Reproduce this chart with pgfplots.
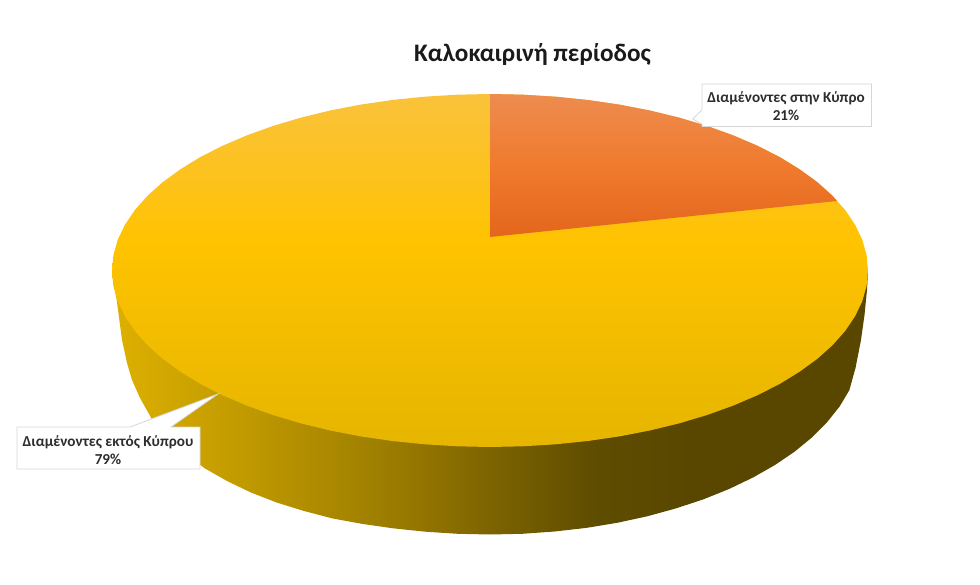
\documentclass[border=0pt]{standalone}
\usepackage{fontspec}
\setmainfont{Carlito}
\usepackage{pgfplots}
\pgfplotsset{compat=1.18}

% side wall of the disc, left to right (position = 25 + 50*(x-112)/756)
\pgfdeclarehorizontalshading{sidewall}{100bp}{
  rgb(0bp)=(0.87,0.69,0); rgb(25bp)=(0.87,0.69,0);
  rgb(34bp)=(0.75,0.60,0); rgb(44bp)=(0.60,0.48,0);
  rgb(50bp)=(0.49,0.39,0); rgb(57bp)=(0.37,0.30,0);
  rgb(63bp)=(0.35,0.28,0); rgb(100bp)=(0.35,0.28,0)}
% top faces, bottom to top
\pgfdeclareverticalshading{yellowtop}{100bp}{
  rgb(0bp)=(0.90,0.71,0); rgb(25bp)=(0.90,0.71,0);
  rgb(46bp)=(0.97,0.75,0); rgb(54bp)=(1.0,0.765,0);
  rgb(64bp)=(0.99,0.76,0.12); rgb(75bp)=(0.98,0.76,0.23);
  rgb(100bp)=(0.98,0.76,0.23)}
\pgfdeclareverticalshading{orangetop}{100bp}{
  rgb(0bp)=(0.89,0.40,0.11); rgb(25bp)=(0.89,0.40,0.11);
  rgb(50bp)=(0.94,0.48,0.18); rgb(75bp)=(0.93,0.55,0.31);
  rgb(100bp)=(0.93,0.55,0.31)}

\begin{document}
\begin{tikzpicture}
\begin{axis}[
  scale only axis,
  width=980pt,
  height=585pt,
  xmin=0, xmax=980,
  ymin=0, ymax=585,
  y dir=reverse,
  hide axis,
  clip=false,
  every axis plot/.append style={no markers}
]
\path (axis cs:0,0) rectangle (axis cs:980,585);
% side wall
\addplot[draw=none, shading=sidewall] coordinates {
  (868,270.5)(867,290)(864.5,315)(861,340)(855.5,368)(849.3,390.3)(839.6,406.5)
  (827.1,422.2)(812.2,437.25)(794.7,451.6)(775,465)(753,477.5)(729.1,489)
  (703.4,499.3)(676,508.4)(647.2,516.3)(617.2,522.8)(586.3,527.9)(554.6,531.5)
  (522.4,533.8)(490,534.5)(457.6,533.8)(425.4,531.7)(393.7,528.4)(362.8,524)
  (332.8,518.5)(304,511)(276.6,502.5)(250.9,492.5)(227,481)(205,468.5)(185.3,454)
  (167.8,438)(152.9,421)(140,398)(132,380)(127,363)(122,340)(116.7,300)(113,280)(112,270.5)
} --cycle;
% 79% top face
\addplot[draw=none, shading=yellowtop] coordinates {
  (490,94)(522.9,94.7)(555.6,96.7)(587.8,100)(619.3,104.6)(649.8,110.5)(679,117.6)
  (706.8,125.9)(733,135.3)(757.3,145.7)(779.6,157)(799.6,169.3)(817.4,182.25)
  (832.6,195.9)(845.2,210.1)(855.1,224.8)(862.3,239.9)(866.6,255.1)(868,270.5)
  (866.6,285.9)(862.3,301.1)(855.1,316.2)(845.2,330.9)(832.6,345.1)(817.4,358.75)
  (799.6,371.7)(779.6,384)(757.3,395.3)(733,405.7)(706.8,415.1)(679,423.4)
  (649.8,430.5)(619.3,436.4)(587.8,441)(555.6,444.3)(522.9,446.3)(490,447)
  (457.1,446.3)(424.4,444.3)(392.2,441)(360.7,436.4)(330.2,430.5)(301,423.4)
  (273.2,415.1)(247,405.7)(222.7,395.3)(200.4,384)(180.4,371.7)(162.6,358.75)
  (147.4,345.1)(134.8,330.9)(124.9,316.2)(117.7,301.1)(113.4,285.9)(112,270.5)
  (113.4,255.1)(117.7,239.9)(124.9,224.8)(134.8,210.1)(147.4,195.9)(162.6,182.25)
  (180.4,169.3)(200.4,157)(222.7,145.7)(247,135.3)(273.2,125.9)(301,117.6)
  (330.2,110.5)(360.7,104.6)(392.2,100)(424.4,96.7)(457.1,94.7)
} --cycle;
% 21% slice
\addplot[draw=none, shading=orangetop] coordinates {
  (490,237)(490,94)(522.9,94.7)(555.6,96.7)(587.8,100)(619.3,104.6)(649.8,110.5)(679,117.6)
  (706.8,125.9)(733,135.3)(757.3,145.7)(779.6,157)(799.6,169.3)(817.4,182.25)
  (832.6,195.9)(837,201)
} --cycle;
% callouts
\addplot[fill=white, draw={rgb,255:red,214;green,214;blue,214}, line width=0.8pt] coordinates {
  (702,84)(871.5,84)(871.5,126.5)(702,126.5)(702,124)(692.7,119)(702,110)
} --cycle;
\addplot[fill=white, draw={rgb,255:red,214;green,214;blue,214}, line width=0.8pt] coordinates {
  (17,427)(130,427)(218,394)(171,427)(200,427)(200,469)(17,469)
} --cycle;
\node[font=\fontsize{25.2}{28}\selectfont\bfseries, text={rgb,255:red,26;green,26;blue,26}] at (axis cs:532.5,54) {Καλοκαιρινή περίοδος};
\node[font=\fontsize{15.2}{18}\selectfont\bfseries, text={rgb,255:red,45;green,45;blue,45}, align=center] at (axis cs:786,106.5) {Διαμένοντες στην Κύπρο\\21\%};
\node[font=\fontsize{15.2}{18}\selectfont\bfseries, text={rgb,255:red,45;green,45;blue,45}, align=center] at (axis cs:108,450.5) {Διαμένοντες εκτός Κύπρου\\79\%};
\end{axis}
\end{tikzpicture}
\end{document}
